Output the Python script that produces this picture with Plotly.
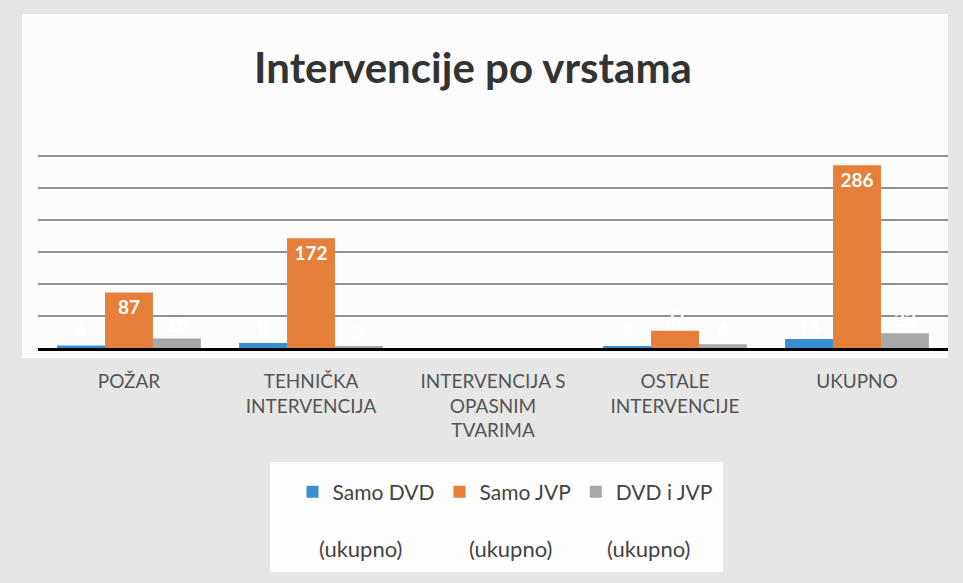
import plotly.graph_objects as go

categories = ["POŽAR", "TEHNIČKA<br>INTERVENCIJA", "INTERVENCIJA S<br>OPASNIM<br>TVARIMA",
              "OSTALE<br>INTERVENCIJE", "UKUPNO"]
samo_dvd = [4, 8, 0, 2, 14]
samo_jvp = [87, 172, 0, 27, 286]
dvd_i_jvp = [15, 2, 0, 6, 23]

series_names = ["Samo DVD", "Samo JVP", "DVD i JVP"]
series_colors = ["#3a8fd2", "#e57f3a", "#a8a8a8"]
legend_suffix = "(ukupno)"

W, H = 963, 583
L, R, T, B = 38, 15, 150, 235  # plot area: x 38..948, y 150..348
PW, PH = W - L - R, H - T - B

def px(xp):
    return (xp - L) / PW

def py(yp):
    return (H - B - yp) / PH

FONT = "Lato"

fig = go.Figure()
for name, vals, col in zip(series_names, [samo_dvd, samo_jvp, dvd_i_jvp], series_colors):
    fig.add_trace(go.Bar(
        x=categories, y=vals, name=name, marker_color=col, marker_line_width=0,
        text=[str(v) for v in vals], textposition="auto",
        insidetextanchor="end",
        insidetextfont=dict(color="white", size=19, family=FONT, weight="bold"),
        outsidetextfont=dict(color="white", size=19, family=FONT, weight="bold"),
        cliponaxis=False,
    ))

shapes = [
    dict(type="rect", xref="paper", yref="paper", x0=px(22), x1=px(948), y0=py(358), y1=py(14),
         fillcolor="rgba(255,255,255,0.85)", line_width=0, layer="below"),
    dict(type="rect", xref="paper", yref="paper", x0=px(270), x1=px(723), y0=py(572), y1=py(462),
         fillcolor="rgba(255,255,255,0.9)", line_width=0, layer="below"),
]

annotations = []
for xl in [317, 467, 605]:
    annotations.append(dict(text=legend_suffix, xref="paper", yref="paper", x=px(xl), y=py(548),
                            xanchor="left", yanchor="middle", showarrow=False,
                            font=dict(family=FONT, size=22, color="#444444")))

fig.update_layout(
    width=W, height=H,
    margin=dict(l=L, r=R, t=T, b=B),
    paper_bgcolor="#e6e6e6",
    plot_bgcolor="rgba(0,0,0,0)",
    barmode="group", bargap=0.21, bargroupgap=0,
    title=dict(text="Intervencije po vrstama", xref="container", x=473 / W, xanchor="center",
               y=1 - 68 / H, yanchor="middle",
               font=dict(family=FONT, size=42, color="#333333", weight="bold")),
    font=dict(family=FONT, color="#555555"),
    showlegend=True,
    legend=dict(orientation="h", x=px(505), xanchor="center", y=py(492), yanchor="middle",
                font=dict(family=FONT, size=21, color="#444444"), bgcolor="rgba(0,0,0,0)",
                itemsizing="constant", traceorder="normal", itemwidth=30),
    xaxis=dict(showline=True, linecolor="black", linewidth=3, ticks="", showgrid=False,
               tickfont=dict(family=FONT, size=19, color="#555555"), ticklabelstandoff=14,
               fixedrange=True),
    yaxis=dict(range=[0, 310], dtick=50, showticklabels=False, showgrid=True, gridcolor="#8f8f8f",
               gridwidth=1.5, zeroline=False, showline=False, fixedrange=True),
    shapes=shapes, annotations=annotations,
)

fig.write_html("out.html", config={"displayModeBar": False},
               post_script="document.body.style.margin='0';")
